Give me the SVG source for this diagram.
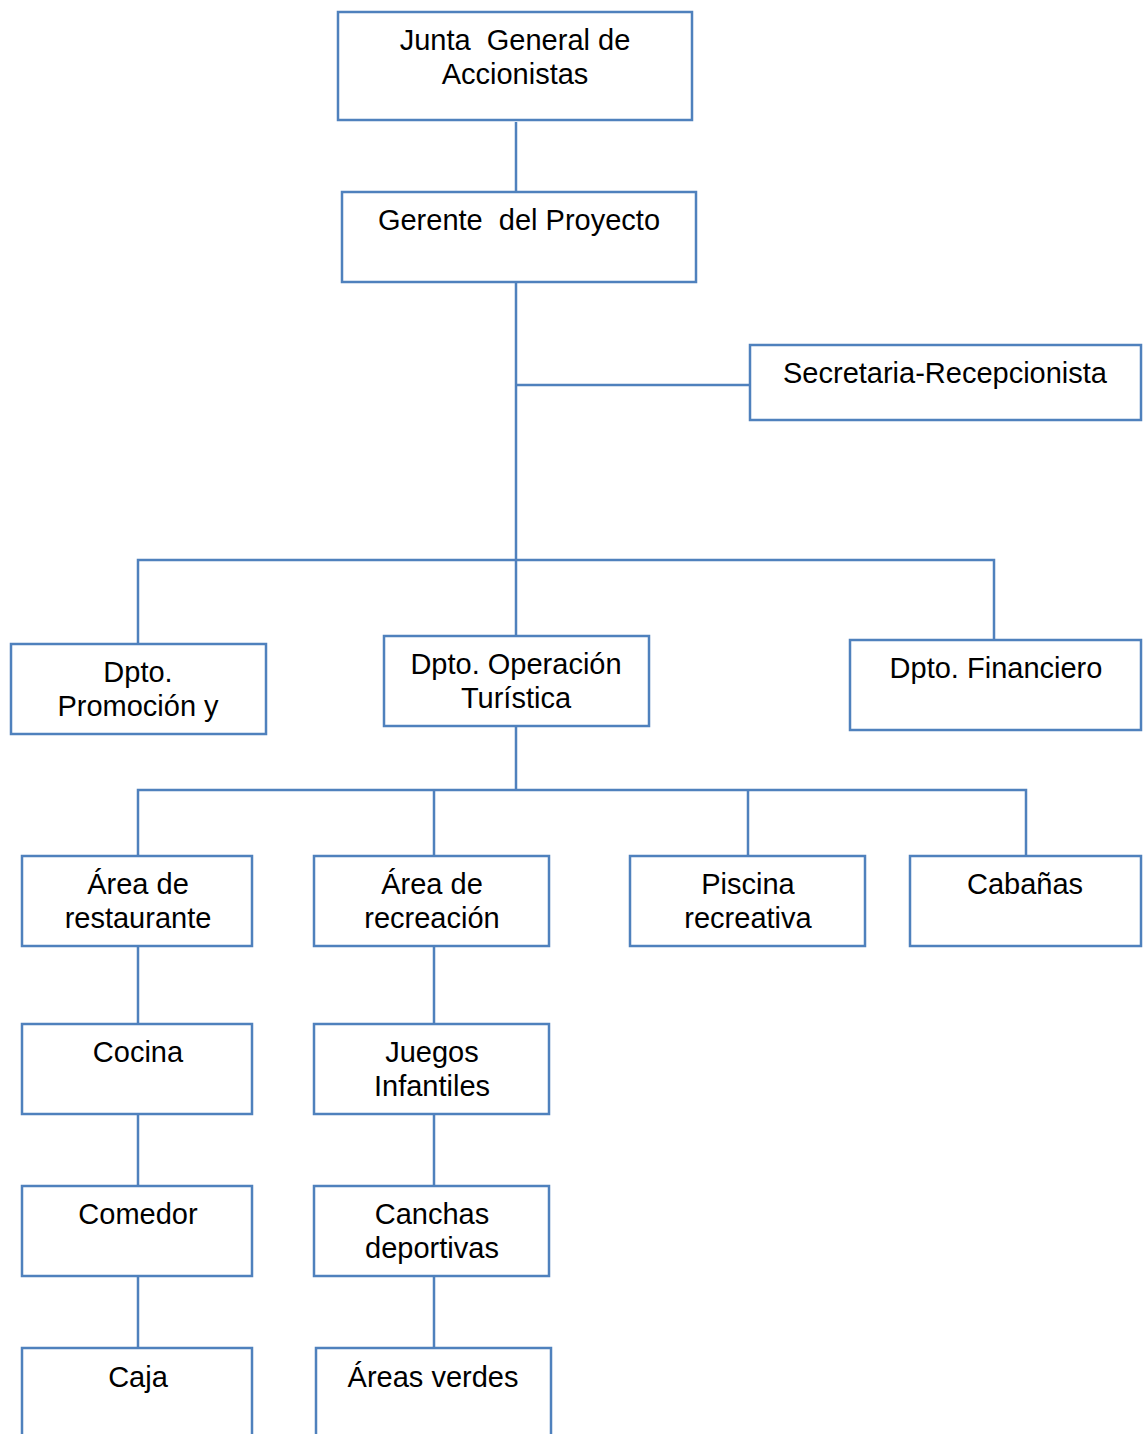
<svg xmlns="http://www.w3.org/2000/svg" width="1144" height="1434" viewBox="0 0 1144 1434">
<style>
.box{fill:#fff;stroke:#4F81BD;stroke-width:2.5}
.ln{fill:none;stroke:#4F81BD;stroke-width:2.5}
text{font-family:"Liberation Sans",Arial,sans-serif;font-size:29px;fill:#000;text-anchor:middle;white-space:pre}
</style>
<rect width="1144" height="1434" fill="#fff"/>
<g id="connectors">
<path class="ln" d="M516 122V191"/>
<path class="ln" d="M516 282V636M516 385H750"/>
<path class="ln" d="M138 644V560H994V640"/>
<path class="ln" d="M516 726V790M138 856V790H1026V856M434 790V856M748 790V856"/>
<path class="ln" d="M138 946V1024M138 1114V1186M138 1276V1348"/>
<path class="ln" d="M434 946V1024M434 1114V1186M434 1276V1348"/>
</g>
<g id="junta"><rect class="box" x="338" y="12" width="354" height="108"/><text x="515" y="50" xml:space="preserve">Junta  General de</text><text x="515" y="84">Accionistas</text></g>
<g id="gerente"><rect class="box" x="342" y="192" width="354" height="90"/><text x="519" y="230" xml:space="preserve">Gerente  del Proyecto</text></g>
<g id="secretaria"><rect class="box" x="750" y="345" width="391" height="75"/><text x="945" y="383">Secretaria-Recepcionista</text></g>
<g id="promocion"><rect class="box" x="11" y="644" width="255" height="90"/><text x="138" y="682">Dpto.</text><text x="138" y="716">Promoción y</text></g>
<g id="operacion"><rect class="box" x="384" y="636" width="265" height="90"/><text x="516" y="674">Dpto. Operación</text><text x="516" y="708">Turística</text></g>
<g id="financiero"><rect class="box" x="850" y="640" width="291" height="90"/><text x="996" y="678">Dpto. Financiero</text></g>
<g id="restaurante"><rect class="box" x="22" y="856" width="230" height="90"/><text x="138" y="894">Área de</text><text x="138" y="928">restaurante</text></g>
<g id="recreacion"><rect class="box" x="314" y="856" width="235" height="90"/><text x="432" y="894">Área de</text><text x="432" y="928">recreación</text></g>
<g id="piscina"><rect class="box" x="630" y="856" width="235" height="90"/><text x="748" y="894">Piscina</text><text x="748" y="928">recreativa</text></g>
<g id="cabanas"><rect class="box" x="910" y="856" width="231" height="90"/><text x="1025" y="894">Cabañas</text></g>
<g id="cocina"><rect class="box" x="22" y="1024" width="230" height="90"/><text x="138" y="1062">Cocina</text></g>
<g id="juegos"><rect class="box" x="314" y="1024" width="235" height="90"/><text x="432" y="1062">Juegos</text><text x="432" y="1096">Infantiles</text></g>
<g id="comedor"><rect class="box" x="22" y="1186" width="230" height="90"/><text x="138" y="1224">Comedor</text></g>
<g id="canchas"><rect class="box" x="314" y="1186" width="235" height="90"/><text x="432" y="1224">Canchas</text><text x="432" y="1258">deportivas</text></g>
<g id="caja"><rect class="box" x="22" y="1348" width="230" height="100"/><text x="138" y="1387">Caja</text></g>
<g id="areas-verdes"><rect class="box" x="316" y="1348" width="235" height="100"/><text x="433" y="1387">Áreas verdes</text></g>
</svg>
